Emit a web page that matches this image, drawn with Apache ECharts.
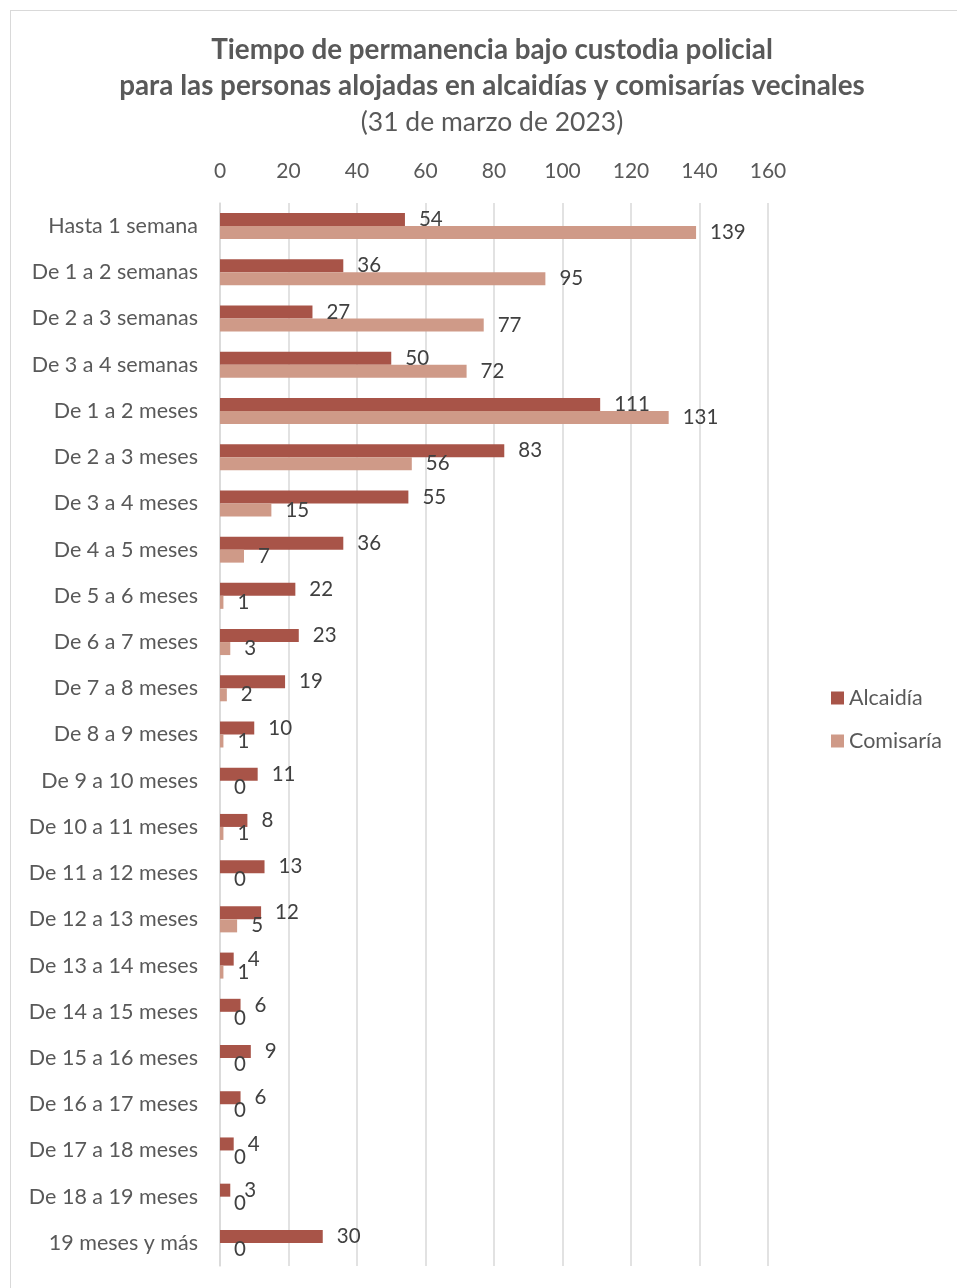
<!DOCTYPE html>
<html><head><meta charset="utf-8">
<script src="https://cdn.jsdelivr.net/npm/echarts@6/dist/echarts.min.js"></script>
<style>
html,body{margin:0;padding:0;background:#fff;}
#frame{position:absolute;left:10px;top:10px;width:960px;height:1290px;border:1px solid #d9d9d9;box-sizing:border-box;}
#c{position:absolute;left:0;top:0;width:957px;height:1288px;}
</style></head>
<body><div id="frame"></div><div id="c"></div>
<script>
const categories = ["Hasta 1 semana","De 1 a 2 semanas","De 2 a 3 semanas","De 3 a 4 semanas","De 1 a 2 meses","De 2 a 3 meses","De 3 a 4 meses","De 4 a 5 meses","De 5 a 6 meses","De 6 a 7 meses","De 7 a 8 meses","De 8 a 9 meses","De 9 a 10 meses","De 10 a 11 meses","De 11 a 12 meses","De 12 a 13 meses","De 13 a 14 meses","De 14 a 15 meses","De 15 a 16 meses","De 16 a 17 meses","De 17 a 18 meses","De 18 a 19 meses","19 meses y más"];
const alcaidia = [54,36,27,50,111,83,55,36,22,23,19,10,11,8,13,12,4,6,9,6,4,3,30];
const comisaria = [139,95,77,72,131,56,15,7,1,3,2,1,0,1,0,5,1,0,0,0,0,0,0];
const xTicks = [0,20,40,60,80,100,120,140,160];

const FONT = "Lato, 'Liberation Sans', sans-serif";
const chart = echarts.init(document.getElementById('c'), null, {renderer:'canvas'});
const lbl = {show:true, position:'right', distance:14, color:'#404040', fontSize:20.5, fontFamily:FONT};
chart.setOption({
  animation:false,
  title:{
    text:'Tiempo de permanencia bajo custodia policial\npara las personas alojadas en alcaidías y comisarías vecinales',
    subtext:'(31 de marzo de 2023)',
    left:487, textAlign:'center', top:27, itemGap:0,
    textStyle:{fontFamily:FONT, fontWeight:'bold', fontSize:27.8, color:'#595959', lineHeight:36},
    subtextStyle:{fontFamily:FONT, fontSize:26.5, color:'#595959', lineHeight:36}
  },
  legend:{
    orient:'vertical', left:826, top:682, itemGap:21, itemWidth:13, itemHeight:13,
    icon:'rect',
    textStyle:{fontFamily:FONT, fontSize:21.5, color:'#595959'},
    data:['Alcaidía','Comisaría']
  },
  grid:{left:220, right:189, top:203, bottom:22, containLabel:false},
  xAxis:{
    type:'value', position:'top', min:0, max:160, interval:20,
    axisLine:{show:false}, axisTick:{show:false},
    axisLabel:{fontFamily:FONT, fontSize:21, color:'#595959', margin:21,
      formatter:v=>xTicks.includes(v)?String(v):''},
    splitLine:{lineStyle:{color:'#d9d9d9', width:1.5}}
  },
  yAxis:{
    type:'category', data:categories, inverse:true,
    axisLine:{show:true, lineStyle:{color:'#d9d9d9', width:1.5}}, axisTick:{show:false},
    axisLabel:{fontFamily:FONT, fontSize:21.5, color:'#595959', margin:22}
  },
  series:[
    {name:'Alcaidía', type:'bar', data:alcaidia, barWidth:13, barGap:'0%',
     itemStyle:{color:'#a85448'}, label:lbl},
    {name:'Comisaría', type:'bar', data:comisaria, barWidth:13, barGap:'0%',
     itemStyle:{color:'#cf9a88'}, label:lbl}
  ]
});
</script></body></html>
